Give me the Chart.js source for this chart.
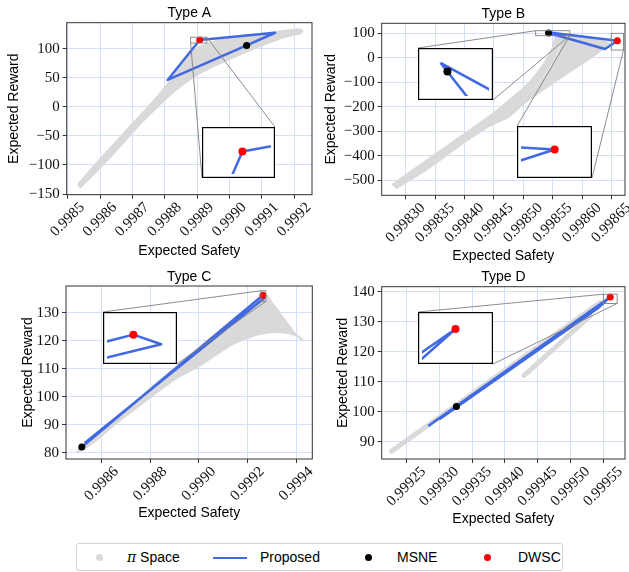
<!DOCTYPE html>
<html>
<head>
<meta charset="utf-8">
<script src="https://cdn.jsdelivr.net/npm/chart.js@4.4.0/dist/chart.umd.min.js"></script>
<style>
  body { margin: 0; background: #fff; width: 629px; height: 572px; position: relative; overflow: hidden; }
  canvas { position: absolute; }
  #legend { position: absolute; left: 76px; top: 543px; width: 487px; height: 28px; box-sizing: border-box;
    border: 1px solid #d4d4d4; border-radius: 3px; font-family: 'Liberation Sans', Arial, sans-serif; font-size: 14px; color: #000; }
  #legend span { position: absolute; top: 5px; line-height: 16px; white-space: nowrap; }
  #legend .dot { position: absolute; top: 10px; width: 7px; height: 7px; border-radius: 50%; }
  #legend .ln { position: absolute; top: 13px; height: 2px; width: 34px; background: #4169e1; }
</style>
</head>
<body>
<div id="legend">
  <div class="dot" style="left:19px;background:#d9d9d9"></div>
  <span style="left:50px"><i style="font-family:'DejaVu Serif',serif">π</i> Space</span>
  <div class="ln" style="left:136px"></div>
  <span style="left:183px">Proposed</span>
  <div class="dot" style="left:288px;background:#000"></div>
  <span style="left:320px">MSNE</span>
  <div class="dot" style="left:407px;background:#f00"></div>
  <span style="left:441px">DWSC</span>
</div>
<script>
// ---- Type A ----
const xTicksA = [0.9985, 0.9986, 0.9987, 0.9988, 0.9989, 0.9990, 0.9991, 0.9992];
const xLabelsA = ['0.9985', '0.9986', '0.9987', '0.9988', '0.9989', '0.9990', '0.9991', '0.9992'];
const yTicksA = [-150, -100, -50, 0, 50, 100];
const yLabelsA = ['−150', '−100', '−50', '0', '50', '100'];
const bandAx = [0.998531, 0.998598, 0.998659, 0.998721, 0.998773, 0.998803, 0.998834, 0.998865, 0.998895, 0.99893,
  0.99897, 0.999008, 0.999071, 0.999143, 0.999215, 0.999225, 0.99922, 0.999194, 0.999143, 0.999091, 0.99904,
  0.998989, 0.998937, 0.998886, 0.998834, 0.998783, 0.998731, 0.99867, 0.998608, 0.998536];
const bandAy = [-134.5, -91.4, -54, -16.7, 14.9, 35, 58, 81, 100, 108.5,
  116, 120.5, 124, 129.3, 133.9, 131.6, 127, 124, 115.5, 104, 92.5,
  80, 66.7, 51, 29.3, 3.4, -25.3, -62.6, -100, -140.2];
const pathAx = [0.999053, 0.999141, 0.998908, 0.998809, 0.999053];
const pathAy = [106.2, 128, 115.5, 46.6, 106.2];
const msneA = [0.999053, 106.2];
const dwscA = [0.998908, 115.5];
const zoomAx = [0.99888, 0.99893];
const zoomAy = [110.3, 120.2];

// ---- Type B ----
const xTicksB = [0.9983, 0.99835, 0.9984, 0.99845, 0.9985, 0.99855, 0.9986, 0.99865];
const xLabelsB = ['0.99830', '0.99835', '0.99840', '0.99845', '0.99850', '0.99855', '0.99860', '0.99865'];
const yTicksB = [-500, -400, -300, -200, -100, 0, 100];
const yLabelsB = ['−500', '−400', '−300', '−200', '−100', '0', '100'];
const bandB1x = [0.998277, 0.998314, 0.998354, 0.998399, 0.998444, 0.998478, 0.998512, 0.998535, 0.998549, 0.998555,
  0.998562, 0.998559, 0.998552, 0.99854, 0.998522, 0.998498, 0.99847, 0.99844, 0.998405, 0.998365, 0.998325, 0.998283];
const bandB1y = [-519, -455, -388, -312, -236, -170, -96, -25, 35, 86,
  86, 43, 0, -50, -105, -165, -225, -280, -335, -405, -472, -533];
const bandB2x = [0.99844, 0.998475, 0.998501, 0.998541, 0.998575, 0.998609, 0.998632, 0.998646, 0.998632, 0.998598,
  0.998566, 0.998563, 0.998556, 0.998545, 0.998527, 0.998503, 0.998475, 0.99845];
const bandB2y = [-280, -240, -186, -118, -63, -9, 30, 58, 70, 81,
  86, 40, 0, -50, -105, -165, -225, -270];
const pathBx = [0.998537, 0.99866, 0.998639, 0.998537];
const pathBy = [105.6, 69.7, 36, 105.6];
const msneB = [0.998543, 101.6];
const dwscB = [0.99866, 69.7];
const zoomB1x = [0.998521, 0.998579];
const zoomB1y = [90.2, 110.6];
const zoomB2x = [0.9986495, 0.9986704];
const zoomB2y = [31.8, 100];

// ---- Type C ----
const xTicksC = [0.9986, 0.9988, 0.999, 0.9992, 0.9994];
const xLabelsC = ['0.9986', '0.9988', '0.9990', '0.9992', '0.9994'];
const yTicksC = [80, 90, 100, 110, 120, 130];
const yLabelsC = ['80', '90', '100', '110', '120', '130'];
const bandCx = [0.998498, 0.999268, 0.999303, 0.999344, 0.999385, 0.999412, 0.999426, 0.999399, 0.999344, 0.999276,
  0.999207, 0.999139, 0.99907, 0.999001, 0.998905, 0.998796, 0.998659, 0.998563, 0.998498];
const bandCy = [80.6, 136.5, 133.1, 128.4, 123.6, 121.2, 120.2, 121.8, 123.0, 122.8,
  121.2, 118.8, 115.0, 111.0, 106.5, 99.5, 90.5, 83.5, 80.0];
const pathCx = [0.998518, 0.999263, 0.9992714, 0.99853];
const pathCy = [82, 136.2, 135.37, 83.5];
const msneC = [0.998518, 82];
const dwscC = [0.999263, 136.2];
const zoomCx = [0.999255, 0.999275];
const zoomCy = [134.01, 137.81];

// ---- Type D ----
const xTicksD = [0.99925, 0.9993, 0.99935, 0.9994, 0.99945, 0.9995, 0.99955];
const xLabelsD = ['0.99925', '0.99930', '0.99935', '0.99940', '0.99945', '0.99950', '0.99955'];
const yTicksD = [90, 100, 110, 120, 130, 140];
const yLabelsD = ['90', '100', '110', '120', '130', '140'];
const strokeD1x = [0.999227, 0.999545];
const strokeD1y = [86.8, 136.4];
const strokeD2x = [0.999429, 0.99953];
const strokeD2y = [112, 132];
const pathDx = [0.999283, 0.9995605, 0.9995415, 0.9993];
const pathDy = [95.2, 138.28, 134.5, 97.5];
const msneD = [0.999326, 101.7];
const dwscD = [0.9995605, 138.28];
const zoomDx = [0.99955, 0.999571];
const zoomDy = [136.1, 139.2];

const gray = '#d9d9d9';
const blue = '#4169e1';
const gridColor = '#d3e0f8';
const tickFont = { family: "'Liberation Serif', 'Times New Roman', serif", size: 15 };
const sansFont = "14px 'Liberation Sans', Arial, sans-serif";

function pts(xs, ys) {
  return xs.map((x, i) => ({ x: x, y: ys[i] }));
}

function dot(xy, color, ord) {
  return { data: [{ x: xy[0], y: xy[1] }], showLine: false, pointRadius: 3.5, pointBackgroundColor: color,
    pointBorderColor: color, pointBorderWidth: 0, order: ord };
}

function makeCanvas(l, t, w, h) {
  const cv = document.createElement('canvas');
  cv.width = w; cv.height = h;
  cv.style.left = l + 'px'; cv.style.top = t + 'px';
  document.body.appendChild(cv);
  return cv;
}

function panel(p) {
  const cv = makeCanvas(p.left, p.top, p.w, p.h);
  const datasets = [];
  (p.bands || []).forEach(b => datasets.push({ data: pts(b[0], b[1]), borderColor: gray, backgroundColor: gray,
    borderWidth: 2, borderJoinStyle: 'round', fill: 'shape', tension: 0.2, pointRadius: 0, order: 5 }));
  (p.strokes || []).forEach(b => datasets.push({ data: pts(b[0], b[1]), borderColor: gray, borderWidth: 5,
    borderCapStyle: 'round', fill: false, pointRadius: 0, order: 5 }));
  datasets.push({ data: pts(p.path[0], p.path[1]), borderColor: blue, borderWidth: 2.5, borderJoinStyle: 'round',
    fill: false, pointRadius: 0, order: 3 });
  datasets.push(dot(p.msne, '#000', 2));
  datasets.push(dot(p.dwsc, '#ff0000', 1));

  const deco = {
    id: 'deco',
    afterDatasetsDraw(chart) {
      const ctx = chart.ctx, a = chart.chartArea, xs = chart.scales.x, ys = chart.scales.y;
      ctx.save();
      ctx.strokeStyle = '#808080';
      ctx.lineWidth = 0.9;
      const boxPx = p.boxes.map(b => ({
        x0: xs.getPixelForValue(b[0][0]), x1: xs.getPixelForValue(b[0][1]),
        y0: ys.getPixelForValue(b[1][0]), y1: ys.getPixelForValue(b[1][1])
      }));
      boxPx.forEach(b => ctx.strokeRect(b.x0, b.y1, b.x1 - b.x0, b.y0 - b.y1));
      p.links.forEach(k => {
        const b = boxPx[k.box];
        const bx = k.b[0] ? b.x1 : b.x0, by = k.b[1] ? b.y1 : b.y0;
        const ix = k.ins.l - p.left + k.i[0] * k.ins.w, iy = k.ins.t - p.top + k.i[1] * k.ins.h;
        ctx.beginPath(); ctx.moveTo(bx, by); ctx.lineTo(ix, iy); ctx.stroke();
      });
      // frame
      ctx.strokeStyle = '#333';
      ctx.lineWidth = 1;
      ctx.strokeRect(a.left, a.top, a.right - a.left, a.bottom - a.top);
      // texts
      ctx.fillStyle = '#000';
      ctx.font = sansFont;
      ctx.textAlign = 'center';
      ctx.textBaseline = 'alphabetic';
      const cx = (a.left + a.right) / 2, cy = (a.top + a.bottom) / 2;
      ctx.fillText(p.title, cx, a.top - 5.5);
      ctx.fillText('Expected Safety', cx, a.bottom + p.xto);
      ctx.translate(a.left - p.yto, cy);
      ctx.rotate(-Math.PI / 2);
      ctx.fillText('Expected Reward', 0, 0);
      ctx.restore();
    }
  };

  new Chart(cv, {
    type: 'line',
    data: { datasets: datasets },
    options: {
      responsive: false, animation: false, devicePixelRatio: 1, events: [],
      layout: { padding: { left: 0, top: p.pad[0], right: p.pad[1], bottom: 0 } },
      plugins: { legend: { display: false }, tooltip: { enabled: false } },
      scales: {
        x: {
          type: 'linear', min: p.xr[0], max: p.xr[1],
          afterBuildTicks: s => { s.ticks = p.xt.map(v => ({ value: v })); },
          afterFit: s => { s.height = p.xh; },
          ticks: { autoSkip: false, minRotation: 45, maxRotation: 45, labelOffset: p.lo, padding: 0,
            color: '#111', font: tickFont, callback: (v, i) => p.xl[i] },
          grid: { color: gridColor, lineWidth: 1, tickColor: '#333', tickLength: 4 },
          border: { display: false }
        },
        y: {
          type: 'linear', min: p.yr[0], max: p.yr[1],
          afterBuildTicks: s => { s.ticks = p.yt.map(v => ({ value: v })); },
          afterFit: s => { s.width = p.yw; },
          ticks: { autoSkip: false, padding: 3, color: '#111', font: tickFont, callback: (v, i) => p.yl[i] },
          grid: { color: gridColor, lineWidth: 1, tickColor: '#333', tickLength: 4 },
          border: { display: false }
        }
      }
    },
    plugins: [deco]
  });
}

function inset(ins, path, msne, dwsc, xr, yr) {
  const cv = makeCanvas(ins.l, ins.t, ins.w, ins.h);
  const datasets = [
    { data: pts(path[0], path[1]), borderColor: blue, borderWidth: 2.5, borderJoinStyle: 'round', fill: false,
      pointRadius: 0, order: 3, clip: 0 },
    dot(msne, '#000', 2),
    dot(dwsc, '#ff0000', 1)
  ];
  datasets[1].pointRadius = 4; datasets[2].pointRadius = 4;
  new Chart(cv, {
    type: 'line',
    data: { datasets: datasets },
    options: {
      responsive: false, animation: false, devicePixelRatio: 1, events: [],
      layout: { padding: 0 },
      plugins: { legend: { display: false }, tooltip: { enabled: false } },
      scales: {
        x: { type: 'linear', display: false, min: xr[0], max: xr[1] },
        y: { type: 'linear', display: false, min: yr[0], max: yr[1] }
      }
    },
    plugins: [{
      id: 'frame',
      beforeDraw(c) { c.ctx.save(); c.ctx.fillStyle = '#fff'; c.ctx.fillRect(0, 0, c.width, c.height); c.ctx.restore(); },
      afterDraw(c) {
        const ctx = c.ctx;
        ctx.save(); ctx.strokeStyle = '#000'; ctx.lineWidth = 1.2;
        ctx.strokeRect(0.6, 0.6, c.width - 1.2, c.height - 1.2); ctx.restore();
      }
    }]
  });
}

const insA = { l: 202, t: 127, w: 73, h: 51 };
const insB1 = { l: 418, t: 48, w: 75, h: 52 };
const insB2 = { l: 517, t: 126, w: 75, h: 52 };
const insC = { l: 103, t: 312, w: 74, h: 52 };
const insD = { l: 418, t: 312, w: 75, h: 52 };

panel({
  title: 'Type A', left: 0, top: 0, w: 318, h: 266, pad: [22.7, 6], yw: 66.7, xh: 71.3, lo: 14.5, xto: 60.3, yto: 48.4,
  xr: [0.998497, 0.999255], yr: [-151.2, 145.3], xt: xTicksA, xl: xLabelsA, yt: yTicksA, yl: yLabelsA,
  bands: [[bandAx, bandAy]], path: [pathAx, pathAy], msne: msneA, dwsc: dwscA,
  boxes: [[zoomAx, zoomAy]],
  links: [{ box: 0, b: [0, 0], ins: insA, i: [0, 1] }, { box: 0, b: [1, 1], ins: insA, i: [1, 0] }]
});
panel({
  title: 'Type B', left: 318, top: 0, w: 311, h: 266, pad: [23.3, 4], yw: 63.7, xh: 70.7, lo: 17, xto: 64.7, yto: 46.7,
  xr: [0.998259, 0.998673], yr: [-561, 140.8], xt: xTicksB, xl: xLabelsB, yt: yTicksB, yl: yLabelsB,
  bands: [[bandB1x, bandB1y], [bandB2x, bandB2y]], path: [pathBx, pathBy], msne: msneB, dwsc: dwscB,
  boxes: [[zoomB1x, zoomB1y], [zoomB2x, zoomB2y]],
  links: [{ box: 0, b: [0, 1], ins: insB1, i: [0, 0] }, { box: 0, b: [1, 0], ins: insB1, i: [1, 1] },
    { box: 0, b: [1, 0], ins: insB2, i: [0, 0] }, { box: 1, b: [1, 0], ins: insB2, i: [1, 1] }]
});
panel({
  title: 'Type C', left: 0, top: 266, w: 318, h: 274, pad: [20, 5.7], yw: 66, xh: 81, lo: 14.5, xto: 57.7, yto: 34.3,
  xr: [0.998453, 0.999466], yr: [77.75, 139.5], xt: xTicksC, xl: xLabelsC, yt: yTicksC, yl: yLabelsC,
  bands: [[bandCx, bandCy]], path: [pathCx, pathCy], msne: msneC, dwsc: dwscC,
  boxes: [[zoomCx, zoomCy]],
  links: [{ box: 0, b: [0, 1], ins: insC, i: [0, 0] }, { box: 0, b: [1, 0], ins: insC, i: [1, 1] }]
});
panel({
  title: 'Type D', left: 318, top: 266, w: 311, h: 274, pad: [20.7, 4], yw: 63.7, xh: 81, lo: 17, xto: 64.3, yto: 35,
  xr: [0.999212, 0.999583], yr: [84.2, 141.7], xt: xTicksD, xl: xLabelsD, yt: yTicksD, yl: yLabelsD,
  strokes: [[strokeD1x, strokeD1y], [strokeD2x, strokeD2y]], path: [pathDx, pathDy], msne: msneD, dwsc: dwscD,
  boxes: [[zoomDx, zoomDy]],
  links: [{ box: 0, b: [0, 1], ins: insD, i: [0, 0] }, { box: 0, b: [1, 0], ins: insD, i: [1, 1] }]
});

inset(insA, [pathAx, pathAy], msneA, dwscA, zoomAx, zoomAy);
inset(insB1, [pathBx, pathBy], msneB, dwscB, zoomB1x, zoomB1y);
inset(insB2, [pathBx, pathBy], msneB, dwscB, zoomB2x, zoomB2y);
inset(insC, [pathCx, pathCy], msneC, dwscC, zoomCx, zoomCy);
inset(insD, [pathDx, pathDy], msneD, dwscD, zoomDx, zoomDy);
</script>
</body>
</html>
